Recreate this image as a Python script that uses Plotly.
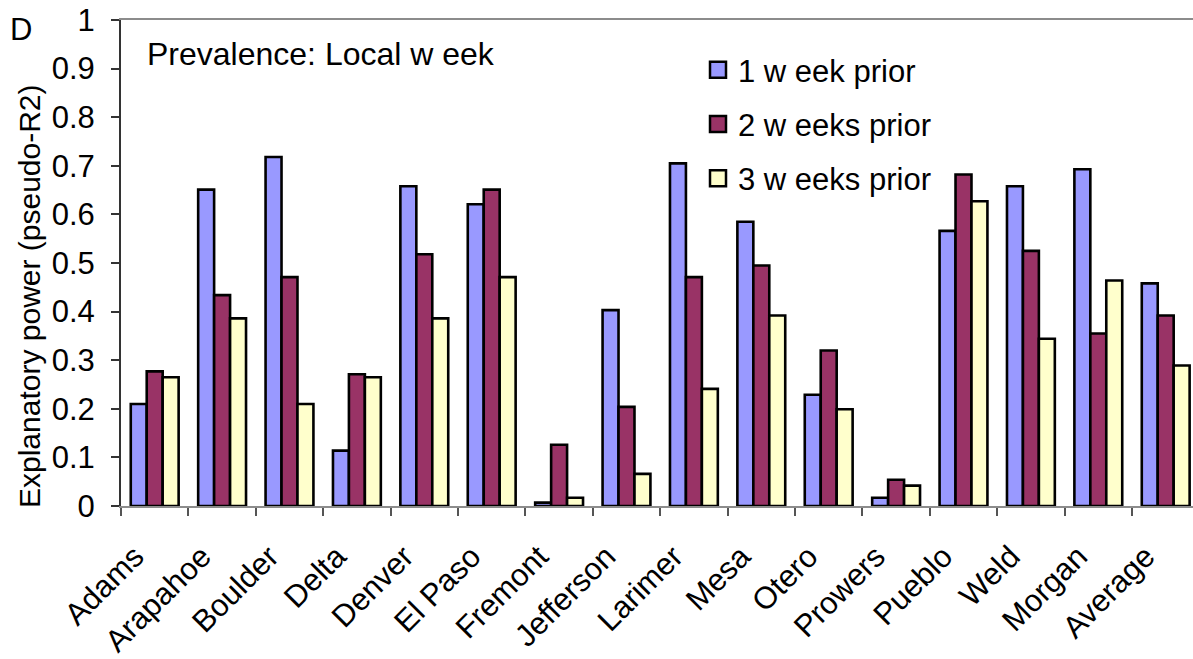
import plotly.graph_objects as go

# County-level explanatory power of prevalence models, by lag
counties = ["Adams", "Arapahoe", "Boulder", "Delta", "Denver", "El Paso", "Fremont",
            "Jefferson", "Larimer", "Mesa", "Otero", "Prowers", "Pueblo", "Weld",
            "Morgan", "Average"]
week1 = [0.210, 0.651, 0.718, 0.114, 0.658, 0.621, 0.007, 0.403,
         0.705, 0.585, 0.229, 0.017, 0.566, 0.658, 0.693, 0.458]
week2 = [0.277, 0.434, 0.471, 0.271, 0.518, 0.651, 0.126, 0.204,
         0.471, 0.495, 0.320, 0.054, 0.682, 0.525, 0.355, 0.392]
week3 = [0.265, 0.386, 0.210, 0.265, 0.386, 0.471, 0.017, 0.066,
         0.241, 0.392, 0.199, 0.042, 0.627, 0.344, 0.464, 0.289]
series_names = ["1 w eek prior", "2 w eeks prior", "3 w eeks prior"]
y_ticks = [0, 0.1, 0.2, 0.3, 0.4, 0.5, 0.6, 0.7, 0.8, 0.9, 1]

colors = ["#9999FF", "#993366", "#FFFFCC"]
FONT = "Liberation Sans, Arial, sans-serif"
FS = 31

W, H = 1193, 659
L, T, B = 121, 20, 506          # plot-area edges in pixels
PW = W - L
PH = B - T


def px_x(p):
    return (p - L) / PW


def px_y(p):
    return (B - p) / PH


fig = go.Figure()
for name, vals, col in zip(series_names, [week1, week2, week3], colors):
    fig.add_trace(go.Bar(
        x=counties, y=vals, name=name, showlegend=False,
        marker=dict(color=col, line=dict(color="black", width=2.6)),
    ))

# legend entries with larger square swatches
for i, (name, col) in enumerate(zip(series_names, colors)):
    fig.add_trace(go.Scatter(
        x=[None], y=[None], mode="markers", name=name, legendgroup=f"g{i}",
        marker=dict(symbol="square", size=16, color=col,
                    line=dict(color="black", width=2.5)),
    ))

fig.update_layout(
    width=W, height=H,
    margin=dict(l=L, r=0, t=T, b=H - B),
    paper_bgcolor="white", plot_bgcolor="white",
    font=dict(family=FONT, size=FS, color="black"),
    barmode="group", bargap=0.29, bargroupgap=0,
    showlegend=True,
    legend=dict(
        x=px_x(698), y=px_y(43), xanchor="left", yanchor="top",
        bgcolor="rgba(0,0,0,0)", traceorder="grouped", tracegroupgap=11,
        font=dict(family=FONT, size=FS, color="black"),
        itemsizing="trace",
    ),
    xaxis=dict(
        type="category", range=[-0.5, 15.405],
        tickson="boundaries", ticks="outside", ticklen=8, tickwidth=1.5,
        tickcolor="#555555", tickangle=-45,
        ticklabelstandoff=18, ticklabelshift=-20,
        showline=True, linecolor="#8c8c8c", linewidth=2, mirror=True,
        showgrid=False, zeroline=False,
        tickfont=dict(family=FONT, size=FS, color="black"),
    ),
    yaxis=dict(
        range=[0, 1], tickvals=y_ticks, ticktext=[f"{v:g}" for v in y_ticks],
        ticks="outside", ticklen=8, tickwidth=1.5, tickcolor="#333333",
        ticklabelstandoff=10,
        showline=True, linecolor="#333333", linewidth=2,
        showgrid=False, zeroline=False,
        tickfont=dict(family=FONT, size=FS, color="black"),
    ),
    annotations=[
        dict(text="D", x=px_x(8), y=px_y(29.5), xref="paper", yref="paper",
             xanchor="left", yanchor="middle", showarrow=False,
             font=dict(family=FONT, size=FS, color="black")),
        dict(text="Prevalence: Local w eek", x=px_x(145), y=px_y(54),
             xref="paper", yref="paper", xanchor="left", yanchor="middle",
             showarrow=False, font=dict(family=FONT, size=32, color="black")),
        dict(text="Explanatory power (pseudo-R2)", x=px_x(29), y=px_y(296),
             xref="paper", yref="paper", xanchor="center", yanchor="middle",
             textangle=-90, showarrow=False,
             font=dict(family=FONT, size=30, color="black")),
    ],
)

fig.write_html("out.html")
